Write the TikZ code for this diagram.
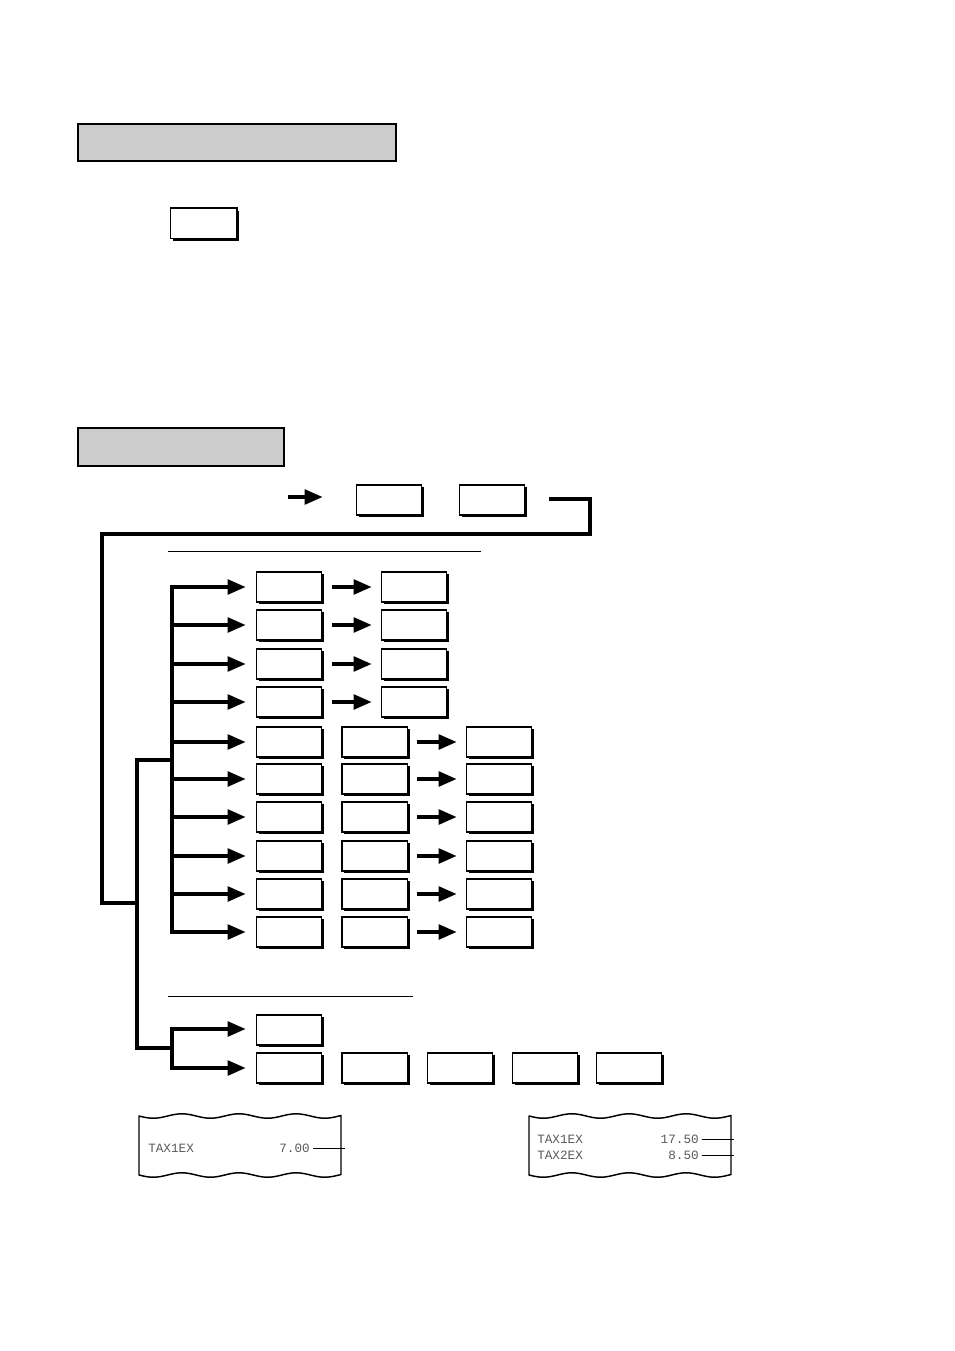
\documentclass[tikz,border=0pt]{standalone}
\usepackage{fontspec}
\newfontfamily\rmono{Liberation Mono}
\usetikzlibrary{arrows.meta,shadows}
\begin{document}
\begin{tikzpicture}[x=0.75pt,y=-0.75pt,
  key/.style={draw, fill=white, line width=1pt, minimum width=49pt, minimum height=22.5pt, inner sep=0pt,
    drop shadow={shadow xshift=1.8pt, shadow yshift=-1.8pt, fill=black, opacity=1}},
  hdr/.style={draw, fill=black!20, line width=1.4pt, inner sep=0pt},
  wire/.style={line width=2.6pt, line cap=rect, line join=miter},
  arr/.style={line width=2.6pt, -{Triangle[length=13.5pt,width=11pt]}},
  sep/.style={line width=0.75pt},
  rcpt/.style={line width=1.1pt},
  rtxt/.style={font=\rmono\fontsize{9.5}{10}\selectfont, text=black!65, inner sep=0pt},
  lead/.style={line width=0.75pt}]
\useasboundingbox (0,0) rectangle (954,1351);

% headers
\node[hdr, minimum width=238.5pt, minimum height=27.75pt] (h1) at (237,142.5) {};
\node[hdr, minimum width=154.5pt, minimum height=28.5pt] (h2) at (181,447) {};

% single key
\node[key, minimum width=50pt, minimum height=23pt] (k0) at (203.5,223.5) {};

% top row
\node[key] (k1) at (389,500) {};
\node[key] (k2) at (492,500) {};
\coordinate (s0) at (288,497);
\draw[arr, shorten >=24.75pt] (s0) -- (k1.west |- s0);

\coordinate (w0) at (551,499);
\coordinate (w1) at (590,534);
\coordinate (w2) at (102,534);
\coordinate (w3) at (137,903);
\coordinate (t1) at (137,760);
\coordinate (t2) at (137,1048);
\draw[wire] (w0) -| (w1) -- (w2) |- (w3);
\draw[wire] (t1) -- (t2);

% separators
\coordinate (sa0) at (168,551); \coordinate (sa1) at (481,551);
\draw[sep] (sa0) -- (sa1);
\coordinate (sb0) at (168,996); \coordinate (sb1) at (413,996);
\draw[sep] (sb0) -- (sb1);

% upper bracket
\coordinate (u0) at (172,760);
\coordinate (uT) at (172,587);
\coordinate (uB) at (172,932);
\draw[wire] (uT) -- (uB);
\draw[wire] (t1) -- (u0);

% rows 1-4
\foreach \i/\y in {1/587,2/625,3/664,4/702}{
  \node[key] (a\i) at (289,\y) {};
  \node[key] (b\i) at (414,\y) {};
  \coordinate (br\i) at (172,\y);
  \draw[arr, shorten >=7.5pt] (br\i) -- (a\i);
  \draw[arr, shorten <=7.5pt, shorten >=6.75pt] (a\i) -- (b\i);
}
% rows 5-10
\foreach \i/\y in {5/742,6/779,7/817,8/856,9/894,10/932}{
  \node[key] (a\i) at (289,\y) {};
  \node[key] (b\i) at (374.5,\y) {};
  \node[key] (c\i) at (499,\y) {};
  \coordinate (br\i) at (172,\y);
  \draw[arr, shorten >=7.5pt] (br\i) -- (a\i);
  \draw[arr, shorten <=6.75pt, shorten >=6.75pt] (b\i) -- (c\i);
}

% lower bracket
\coordinate (l0) at (172,1048);
\coordinate (lT) at (172,1029);
\coordinate (lB) at (172,1068);
\draw[wire] (lT) -- (lB);
\draw[wire] (t2) -- (l0);
\node[key] (d1) at (289,1030) {};
\node[key] (e1) at (289,1068) {};
\node[key] (e2) at (374.5,1068) {};
\node[key] (e3) at (460,1068) {};
\node[key] (e4) at (545,1068) {};
\node[key] (e5) at (629,1068) {};
\draw[arr, shorten >=7.5pt] (lT) -- (d1.west |- lT);
\draw[arr, shorten >=7.5pt] (lB) -- (e1);

% receipts
\draw[rcpt, line join=round]
  plot[domain=139:341, samples=120] (\x,{1116+2.2*sin((\x-139)*6.3)})
  -- plot[domain=341:139, samples=120] (\x,{1175+2.2*sin((\x-139)*6.3)}) -- cycle;
\draw[rcpt, line join=round]
  plot[domain=529:731, samples=120] (\x,{1116+2.2*sin((\x-529)*6.3)})
  -- plot[domain=731:529, samples=120] (\x,{1175+2.2*sin((\x-529)*6.3)}) -- cycle;

\node[rtxt, anchor=west] (p1) at (148,1148) {TAX1EX};
\node[rtxt, anchor=east] (v1) at (310,1148) {7.00};
\coordinate (q1) at (345,1148);
\draw[lead] ([xshift=2.25pt]v1.east) -- (q1);

\node[rtxt, anchor=west] (p2) at (537,1139) {TAX1EX};
\node[rtxt, anchor=east] (v2) at (699,1139) {17.50};
\coordinate (q2) at (734,1139);
\draw[lead] ([xshift=2.25pt]v2.east) -- (q2);
\node[rtxt, anchor=west] (p3) at (537,1155) {TAX2EX};
\node[rtxt, anchor=east] (v3) at (699,1155) {8.50};
\coordinate (q3) at (734,1155);
\draw[lead] ([xshift=2.25pt]v3.east) -- (q3);
\end{tikzpicture}
\end{document}
